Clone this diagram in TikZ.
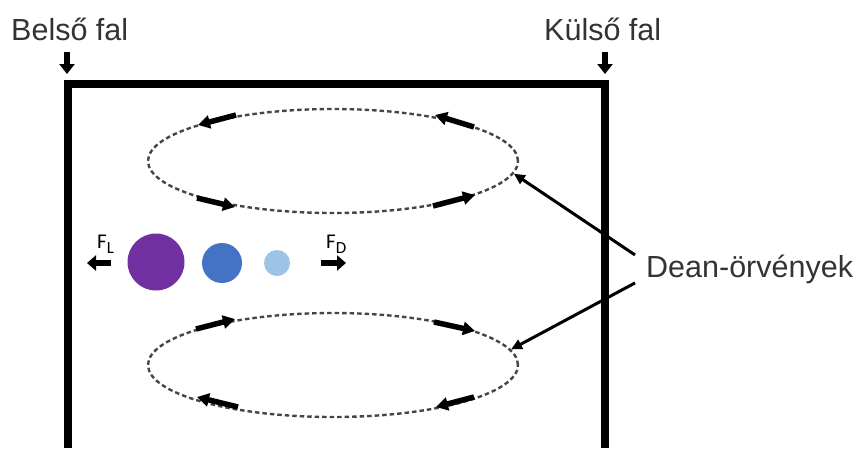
\documentclass[tikz,border=0pt]{standalone}
\usepackage{fontspec}
\setmainfont{Liberation Sans}
\newfontfamily\forcefont{Carlito}
\usetikzlibrary{arrows.meta,shapes.geometric}
\definecolor{txtgray}{HTML}{333333}
\definecolor{dashgray}{HTML}{454545}
\definecolor{cellpurple}{HTML}{7030A0}
\definecolor{cellblue}{HTML}{4472C4}
\definecolor{celllight}{HTML}{9DC3E6}
\begin{document}
\begin{tikzpicture}[x=1pt,y=-1pt,
  bigtext/.style={font=\fontsize{30.5}{32}\selectfont, text=txtgray, inner sep=0pt, anchor=base west},
  forcetext/.style={font=\forcefont\fontsize{21}{22}\selectfont, text=black, inner sep=0pt, anchor=base west},
  vortex/.style={ellipse, draw=dashgray, line width=2.4pt, dash pattern=on 4.5pt off 3pt,
                 minimum width=370pt, minimum height=104pt, inner sep=0pt},
  flow/.style={line width=5.5pt, -{Triangle[length=12pt,width=13pt]}},
  wallarrow/.style={line width=6pt, -{Triangle[length=10pt,width=15pt]}},
  force/.style={line width=6pt, -{Triangle[length=9pt,width=15pt]}},
  pointer/.style={line width=3pt, -{Triangle[length=11pt,width=10pt]}},
  particle/.style={circle, inner sep=0pt}
]
\useasboundingbox (0,0) rectangle (861,448);

% channel cross-section (open at the bottom)
\draw[line width=8pt, miter limit=10] (68,448) -- (68,84) -- (605,84) -- (605,448);

% wall labels
\node[bigtext] (inner) at (11,40) {Belső fal};
\node[bigtext] (outer) at (544,40) {Külső fal};
\coordinate (innerfrom) at (67,52);
\coordinate (innerto) at (67,74);
\coordinate (outerfrom) at (605,52);
\coordinate (outerto) at (605,74);
\draw[wallarrow] (innerfrom) -- (innerto);
\draw[wallarrow] (outerfrom) -- (outerto);

% Dean vortices
\node[vortex] (upv) at (333,161) {};
\node[vortex] (lowv) at (333,365) {};

% circulation arrows, upper vortex
\coordinate (u1a) at (236,115); \coordinate (u1b) at (198,125);
\coordinate (u2a) at (474,127); \coordinate (u2b) at (435,115);
\coordinate (u3a) at (197,198); \coordinate (u3b) at (235,207);
\coordinate (u4a) at (433,206); \coordinate (u4b) at (475,195);
\draw[flow] (u1a) -- (u1b);
\draw[flow] (u2a) -- (u2b);
\draw[flow] (u3a) -- (u3b);
\draw[flow] (u4a) -- (u4b);

% circulation arrows, lower vortex
\coordinate (l1a) at (196,329); \coordinate (l1b) at (235,319);
\coordinate (l2a) at (434,322); \coordinate (l2b) at (475,331);
\coordinate (l3a) at (474,397); \coordinate (l3b) at (436,407);
\coordinate (l4a) at (238,407); \coordinate (l4b) at (197,397);
\draw[flow] (l1a) -- (l1b);
\draw[flow] (l2a) -- (l2b);
\draw[flow] (l3a) -- (l3b);
\draw[flow] (l4a) -- (l4b);

% vortex label
\node[bigtext] (dean) at (646,277) {Dean-örvények};
\draw[pointer] ([shift={(-11,-14)}]dean.west) -- (upv.-4);
\draw[pointer] ([shift={(-11,14)}]dean.west) -- (lowv.5.5);

% particles
\node[particle, fill=cellpurple, minimum size=57pt] (big) at (156,262) {};
\node[particle, fill=cellblue, minimum size=40pt] (mid) at (222,263) {};
\node[particle, fill=celllight, minimum size=26pt] (small) at (277,263) {};

% forces
\node[forcetext] (fl) at (97,248) {F\raisebox{-5pt}{\fontsize{17}{17}\selectfont L}};
\node[forcetext] (fd) at (326,248) {F\raisebox{-5pt}{\fontsize{17}{17}\selectfont D}};
\coordinate (flfrom) at (111,263); \coordinate (flto) at (87,263);
\coordinate (fdfrom) at (321,263); \coordinate (fdto) at (346,263);
\draw[force] (flfrom) -- (flto);
\draw[force] (fdfrom) -- (fdto);
\end{tikzpicture}
\end{document}
